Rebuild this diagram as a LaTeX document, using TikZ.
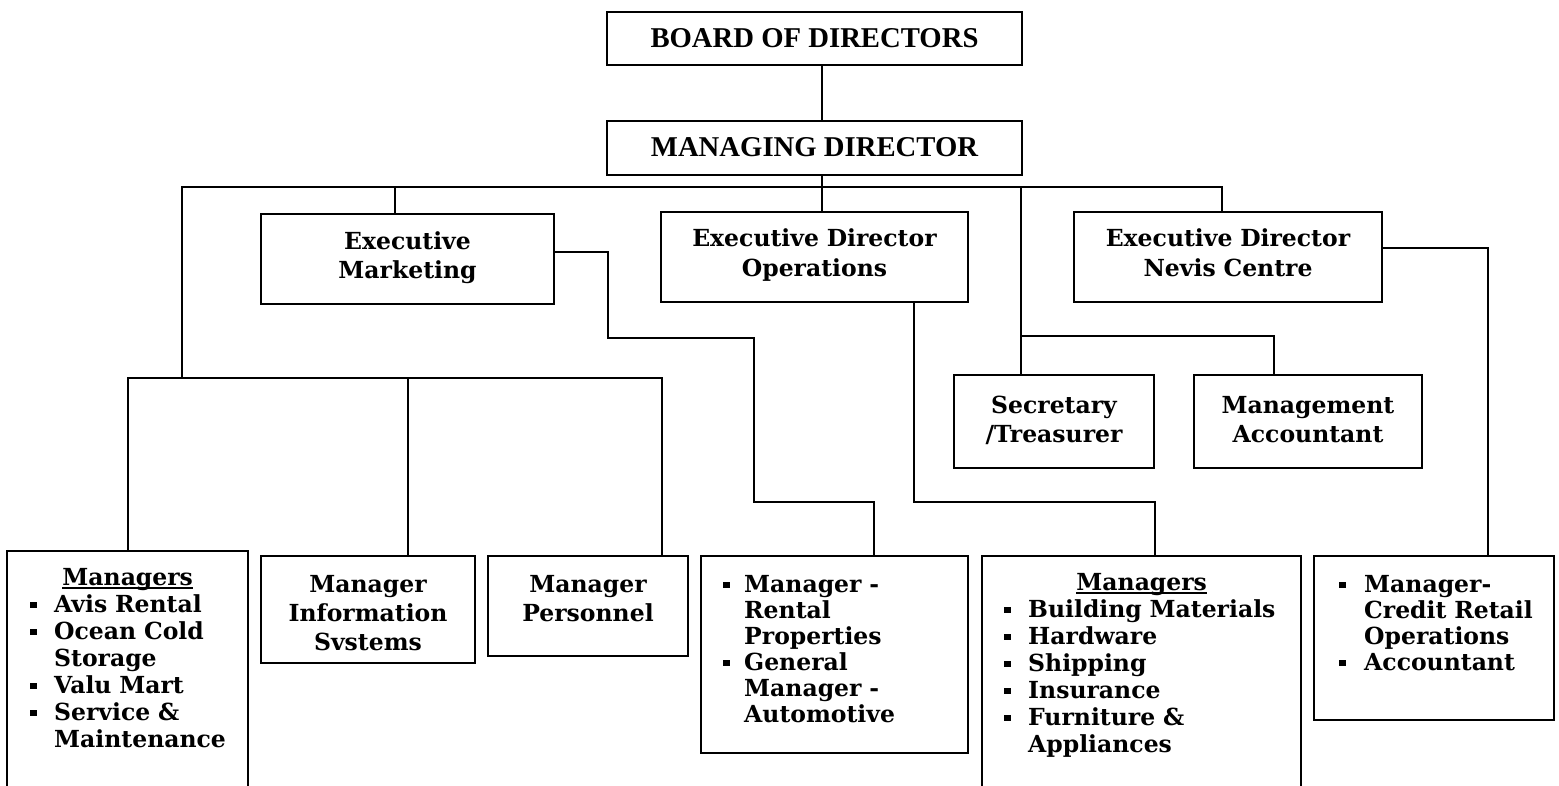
\documentclass[tikz,border=0pt]{standalone}
\usepackage{fontspec}
\newfontfamily\gfont{DejaVu Serif}
\newfontfamily\tfont{Liberation Serif}
\usetikzlibrary{calc}

% square bullet, list items with hanging indent, word underline
\newcommand\sqbul{\rule[3.8pt]{6.5pt}{6.5pt}}
\newcommand\nl{\hfil\break}
\newcommand\lfirst[3]{\noindent\hangindent=#2\hangafter=1\makebox[#2][l]{\hspace*{#1}\sqbul}#3}
\newcommand\litem[3]{\par\lfirst{#1}{#2}{#3}}
\newcommand\ulword[1]{\setbox0=\hbox{#1}\rlap{\rule[-3.5pt]{\wd0}{1.6pt}}\box0}

% box from top-left (x1,y1) to bottom-right (x2,y2)
\newcommand\orgbox[5]{\node[orgframe, minimum width={(#4-#2)*1pt}, minimum height={(#5-#3)*1pt}, anchor=north west] (#1) at (#2,#3) {};}

\begin{document}
\begin{tikzpicture}[x=1pt, y=-1pt,
  orgframe/.style={draw, line width=1.8pt, rectangle, inner sep=0pt, outer sep=0pt},
  wire/.style={line width=1.8pt, line cap=rect},
  capstext/.style={inner sep=0pt, anchor=base, font=\tfont\bfseries\fontsize{28.7}{30}\selectfont},
  gtext/.style={inner sep=0pt, anchor=base, align=center, font=\gfont\bfseries\fontsize{23.5}{29}\selectfont},
  gtextw/.style={gtext, font=\gfont\bfseries\fontsize{23.5}{30}\selectfont},
  listtext/.style={inner sep=0pt, anchor=base west, font=\gfont\bfseries\fontsize{23.5}{27}\selectfont},
  listtextn/.style={listtext, font=\gfont\bfseries\fontsize{23.5}{26}\selectfont}
]
\useasboundingbox (0,0) rectangle (1559,785);
\fill[white] (0,0) rectangle (1559,785);
\clip (0,0) rectangle (1559,785);

% ---- boxes ----
\orgbox{bod}{607}{12}{1022}{65}
\orgbox{md}{607}{121}{1022}{175}
\orgbox{mkt}{261}{214}{554}{304}
\orgbox{ops}{661}{212}{968}{302}
\orgbox{nev}{1074}{212}{1382}{302}
\orgbox{sec}{954}{375}{1154}{468}
\orgbox{acc}{1194}{375}{1422}{468}
\orgbox{mga}{7}{551}{248}{800}
\orgbox{info}{261}{556}{475}{663}
\orgbox{pers}{488}{556}{688}{656}
\orgbox{rent}{701}{556}{968}{753}
\orgbox{mgb}{982}{556}{1301}{800}
\orgbox{cred}{1314}{556}{1554}{720}

% ---- texts ----
\node[capstext] (bodT) at (814.5,47) {BOARD OF DIRECTORS};
\node[capstext] (mdT) at (814.5,156) {MANAGING DIRECTOR};
\node[gtext, text width=290pt] (mktT) at (407.5,249) {Executive\\Marketing};
\node[gtextw, text width=300pt] (opsT) at (814.5,246) {Executive Director\\Operations};
\node[gtextw, text width=300pt] (nevT) at (1228,246) {Executive Director\\Nevis Centre};
\node[gtext, text width=196pt] (secT) at (1054,413) {Secretary\\/Treasurer};
\node[gtext, text width=224pt] (accT) at (1308,413) {Management\\Accountant};
\node[gtext, text width=210pt] (infoT) at (368,592) {Manager\\Information\\Svstems};
\node[gtext, text width=196pt] (persT) at (588,592) {Manager\\Personnel};

\node[listtext, text width=241pt] (mgaT) at (7,585) {%
  \makebox[\linewidth]{\ulword{Managers}}%
  \litem{23pt}{47pt}{Avis Rental}%
  \litem{23pt}{47pt}{Ocean Cold\nl Storage}%
  \litem{23pt}{47pt}{Valu Mart}%
  \litem{23pt}{47pt}{Service \&\nl Maintenance}\par};

\node[listtext, text width=319pt] (mgbT) at (982,590) {%
  \makebox[\linewidth]{\ulword{Managers}}%
  \litem{22pt}{46pt}{Building Materials}%
  \litem{22pt}{46pt}{Hardware}%
  \litem{22pt}{46pt}{Shipping}%
  \litem{22pt}{46pt}{Insurance}%
  \litem{22pt}{46pt}{Furniture \&\nl Appliances}\par};

\node[listtextn, text width=267pt] (rentT) at (701,592) {%
  \lfirst{22pt}{43pt}{Manager -\nl Rental\nl Properties}%
  \litem{22pt}{43pt}{General\nl Manager -\nl Automotive}\par};

\node[listtextn, text width=240pt] (credT) at (1314,592) {%
  \lfirst{25pt}{50pt}{Manager-\nl Credit Retail\nl Operations}%
  \litem{25pt}{50pt}{Accountant}\par};

% ---- junction points ----
\coordinate (busL) at (182,187);
\coordinate (busR) at (1222,187);
\coordinate (busM) at (822,187);
\coordinate (busK) at (395,187);
\coordinate (busS) at (1021,187);
\coordinate (lowL) at (128,378);
\coordinate (lowI) at (408,378);
\coordinate (lowR) at (662,378);
\coordinate (lowJ) at (182,378);
\coordinate (secJ) at (1021,336);
\coordinate (secR) at (1274,336);
\coordinate (mk1) at (608,252);
\coordinate (mk2) at (608,338);
\coordinate (mk3) at (754,338);
\coordinate (mk4) at (754,502);
\coordinate (mk5) at (874,502);
\coordinate (op1) at (914,502);
\coordinate (op2) at (1155,502);
\coordinate (nv1) at (1488,248);

% ---- connectors ----
\draw[wire] (bod.south -| busM) -- (md.north -| busM);
\draw[wire] (md.south -| busM) -- (busM);
\draw[wire] (busL) -- (busR);
\draw[wire] (busL) -- (lowJ);
\draw[wire] (lowL) -- (lowR);
\draw[wire] (lowL) -- (lowL |- mga.north);
\draw[wire] (lowI) -- (lowI |- info.north);
\draw[wire] (lowR) -- (lowR |- pers.north);
\draw[wire] (busK) -- (busK |- mkt.north);
\draw[wire] (busM) -- (busM |- ops.north);
\draw[wire] (busR) -- (busR |- nev.north);
\draw[wire] (busS) -- (busS |- sec.north);
\draw[wire] (secJ) -- (secR) -- (secR |- acc.north);
\draw[wire] (mkt.east |- mk1) -- (mk1) -- (mk2) -- (mk3) -- (mk4) -- (mk5) -- (mk5 |- rent.north);
\draw[wire] (ops.south -| op1) -- (op1) -- (op2) -- (op2 |- mgb.north);
\draw[wire] (nev.east |- nv1) -- (nv1) -- (nv1 |- cred.north);
\end{tikzpicture}
\end{document}
